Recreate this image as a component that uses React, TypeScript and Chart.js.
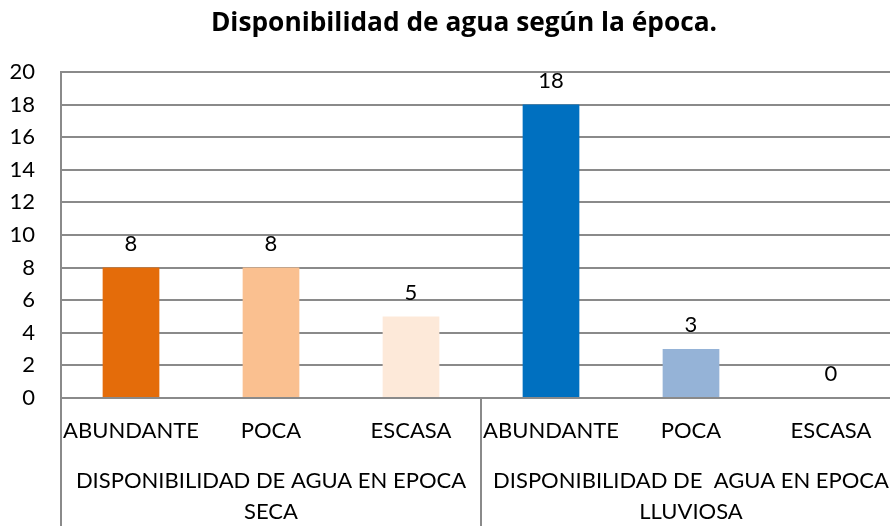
import React, { useEffect, useRef } from "react";
import { Chart, registerables } from "chart.js";

Chart.register(...registerables);

const titleText = "Disponibilidad de agua según la época.";
const subCategories = ["ABUNDANTE", "POCA", "ESCASA", "ABUNDANTE", "POCA", "ESCASA"];
const groupLines = [
  ["DISPONIBILIDAD DE AGUA EN EPOCA", "SECA"],
  ["DISPONIBILIDAD DE  AGUA EN EPOCA", "LLUVIOSA"],
];
const groupSizes = [3, 3];
const values = [8, 8, 5, 18, 3, 0];
const barColors = ["#E46C0A", "#FAC090", "#FDE9D9", "#0070C0", "#95B3D7", "#FFFFFF"];
const yMin = 0;
const yMax = 20;
const yStep = 2;

const FONT = "Lato, 'Open Sans', sans-serif";
const TITLE_FONT = "'Open Sans', Lato, sans-serif";
const GRID = "#8a8a8a";
const CW = 928;
const CH = 545;
const PLOT_LEFT = 61;
const PLOT_RIGHT = 901;
const PLOT_BOTTOM = 398;

const extrasPlugin = {
  id: "extras",
  afterDatasetsDraw(chart: any) {
    const ctx = chart.ctx;
    const meta = chart.getDatasetMeta(0);
    ctx.save();
    ctx.fillStyle = "#000";
    ctx.font = `22px ${FONT}`;
    ctx.textAlign = "center";
    ctx.textBaseline = "alphabetic";
    meta.data.forEach((bar: any, i: number) => {
      ctx.fillText(String(values[i]), bar.x, bar.y - 17);
    });
    ctx.restore();
  },
  afterDraw(chart: any) {
    const ctx = chart.ctx;
    const x = chart.scales.x;
    const area = chart.chartArea;
    ctx.save();
    ctx.strokeStyle = GRID;
    ctx.lineWidth = 2;
    const bounds: number[] = [area.left];
    let idx = 0;
    groupSizes.forEach((n) => {
      idx += n;
      if (idx < subCategories.length) {
        bounds.push((x.getPixelForValue(idx - 1) + x.getPixelForValue(idx)) / 2);
      } else {
        bounds.push(area.right);
      }
    });
    bounds.forEach((bx) => {
      ctx.beginPath();
      ctx.moveTo(bx, area.bottom);
      ctx.lineTo(bx, chart.height);
      ctx.stroke();
    });
    ctx.fillStyle = "#000";
    ctx.font = `22px ${FONT}`;
    ctx.textAlign = "center";
    ctx.textBaseline = "middle";
    let start = 0;
    groupSizes.forEach((n, g) => {
      const cx = (x.getPixelForValue(start) + x.getPixelForValue(start + n - 1)) / 2;
      groupLines[g].forEach((line, li) => {
        ctx.fillText(line, cx, area.bottom + 83 + li * 31);
      });
      start += n;
    });
    ctx.restore();
  },
};

export default function App() {
  const ref = useRef<HTMLCanvasElement | null>(null);
  useEffect(() => {
    if (!ref.current) return;
    const chart = new Chart(ref.current, {
      type: "bar",
      data: {
        labels: subCategories,
        datasets: [
          {
            data: values,
            backgroundColor: barColors,
            borderWidth: 0,
            categoryPercentage: 1,
            barPercentage: 0.405,
          },
        ],
      },
      options: {
        animation: false,
        responsive: false,
        maintainAspectRatio: false,
        layout: { padding: 0 },
        plugins: {
          legend: { display: false },
          tooltip: { enabled: false },
          title: {
            display: true,
            text: titleText,
            color: "#000",
            font: { family: TITLE_FONT, size: 26.3, weight: "bold", lineHeight: 1.2 },
            padding: { top: 8, bottom: 72 - 8 - 26.3 * 1.2 },
          },
        },
        scales: {
          x: {
            offset: true,
            grid: { display: false, drawTicks: false },
            border: { display: true, color: GRID, width: 2 },
            ticks: {
              color: "#000",
              font: { family: FONT, size: 22 },
              padding: 20,
              maxRotation: 0,
              autoSkip: false,
            },
            afterFit(scale: any) {
              scale.height = CH - PLOT_BOTTOM;
            },
          },
          y: {
            min: yMin,
            max: yMax,
            grid: { color: GRID, lineWidth: 2, drawTicks: false },
            border: { display: true, color: GRID, width: 2 },
            ticks: {
              stepSize: yStep,
              color: "#000",
              font: { family: FONT, size: 22 },
              padding: 26,
            },
            afterFit(scale: any) {
              scale.width = PLOT_LEFT;
            },
          },
          yRightSpace: {
            position: "right",
            min: yMin,
            max: yMax,
            grid: { display: false, drawTicks: false },
            border: { display: false },
            ticks: { display: false },
            afterFit(scale: any) {
              scale.width = CW - PLOT_RIGHT;
            },
          },
        },
      },
      plugins: [extrasPlugin],
    });
    return () => chart.destroy();
  }, []);
  return (
    <div
      style={{
        position: "absolute",
        left: 0,
        top: 0,
        width: 890,
        height: 526,
        overflow: "hidden",
        background: "#fff",
      }}
    >
      <canvas ref={ref} width={CW} height={CH} style={{ width: CW, height: CH, display: "block" }} />
    </div>
  );
}
